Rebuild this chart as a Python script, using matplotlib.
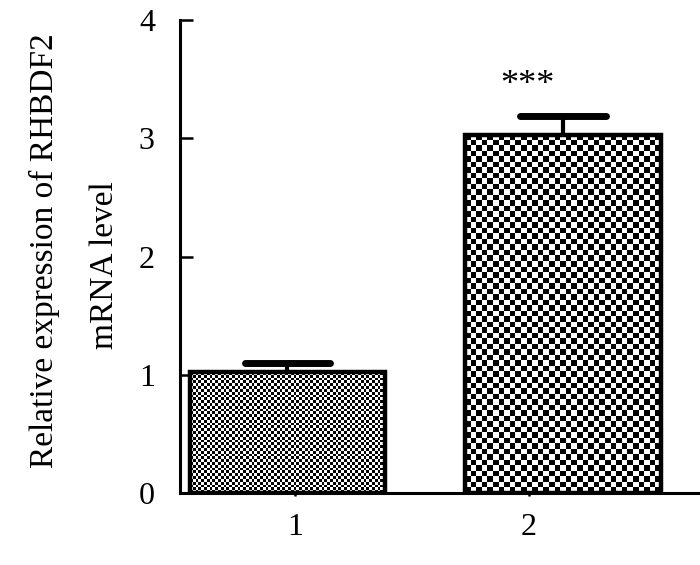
import numpy as np
import matplotlib
matplotlib.use("Agg")
import matplotlib.pyplot as plt

groups = ["1", "2"]
means = [1.02, 3.03]
errors = [0.08, 0.16]
stars = ["", "***"]
cells = [(70, 43), (35, 65)]  # checker cells across / down per bar

plt.rcParams["font.family"] = ["Liberation Serif", "DejaVu Serif"]

fig = plt.figure(figsize=(7, 5.65), dpi=100)
ax = fig.add_axes([0.257, 0.1274, 0.74, 0.8372])

pos = np.array([1.0, 2.0])
width = 0.71
cap = 0.155

bars = ax.bar(pos, means, width, color="white", edgecolor="none", zorder=1)
for b, (nx, ny) in zip(bars, cells):
    checker = (np.add.outer(np.arange(ny), np.arange(nx)) % 2).astype(float)
    x0 = b.get_x()
    im = ax.imshow(checker, cmap="gray", extent=(x0, x0 + width, 0, b.get_height()),
                   aspect="auto", interpolation="nearest", zorder=2)
    im.set_clip_path(b)
ax.bar(pos, means, width, facecolor="none", edgecolor="black", linewidth=3.2, zorder=3)

# upper error bars only
tops = np.array(means) + np.array(errors)
ax.vlines(pos, means, tops, color="black", linewidth=3, zorder=4)
ax.hlines(tops, pos - cap, pos + cap, color="black", linewidth=5,
          capstyle="round", zorder=4)
for p, t, s in zip(pos, tops, stars):
    if s:
        ax.text(p - 0.13, t + 0.12, s, ha="center", va="bottom", fontsize=26)

ax.set_xlim(0.61, 2.49)
ax.set_ylim(0, 4)
ax.set_yticks([0, 1, 2, 3, 4])
ax.set_xticks(pos + np.array([0.027, -0.123]))
ax.set_xticklabels(groups)
ax.tick_params(axis="y", direction="in", length=9, width=1.8, pad=18, labelsize=23)
ax.tick_params(axis="x", direction="out", length=2.5, width=1.8, pad=12, labelsize=23)
for s in ("top", "right"):
    ax.spines[s].set_visible(False)
ax.spines["left"].set_linewidth(2.2)
ax.spines["bottom"].set_linewidth(2.2)

fig.text(0.063, 0.557, "Relative expression of RHBDF2", rotation=90,
         ha="center", va="center", fontsize=24)
fig.text(0.15, 0.531, "mRNA level", rotation=90,
         ha="center", va="center", fontsize=24)

fig.savefig("out.png", dpi=100)
